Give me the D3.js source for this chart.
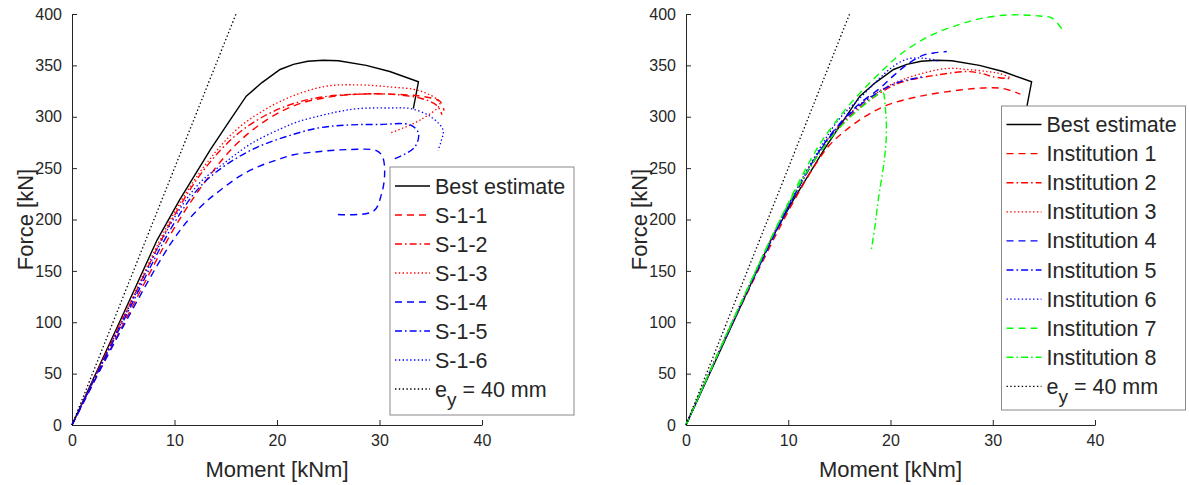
<!DOCTYPE html>
<html>
<head>
<meta charset="utf-8">
<script src="https://cdn.jsdelivr.net/npm/d3@7"></script>
<style>
  html, body { margin: 0; padding: 0; background: #fff; }
  svg { display: block; }
  text { font-family: Arial, "Liberation Sans", Helvetica, sans-serif; fill: #262626; }
</style>
</head>
<body>
<svg id="chart" width="1189" height="485"></svg>
<script>
// Axis ticks
const xTicks = [0, 10, 20, 30, 40];
const yTicks = [0, 50, 100, 150, 200, 250, 300, 350, 400];

// Force-moment curves, [moment kNm, force kN]
const bestEstimate = [[0,0],[5,108],[8.3,180],[10.5,219],[13.5,268],[15.5,298],[17,320],[18.5,333],[20.3,346],[21.6,351],[23,354],[24.5,355],[26,354.5],[28.7,350],[31,344],[33.8,334],[33.3,308]];
const eyLine = [[0,0],[16,400]];

const s11 = [[0,0],[5,98],[10,192],[13,237],[16,273],[19,297],[22,312],[25,319],[28,322],[31,322],[34,320],[35.9,315],[36.3,306]];
const s12 = [[0,0],[5,104],[10,204],[13,250],[16,282],[19,302],[22,314],[25,320],[28,322],[31,322],[34,318],[35.6,311],[36.1,302]];
const s13 = [[0,0],[5,105],[10,207],[13,253],[16,287],[19,308],[22,322],[25,330],[28,331],[31,329],[34,325],[35.9,313],[34,297],[31,284]];
const s14 = [[0,0],[5,96],[10,182],[12.5,212],[14.4,228],[16.5,243],[18.3,252],[20,258],[21.6,263],[24,266],[26.8,268],[29.7,267],[30.3,261],[30.5,244],[30.2,225],[29.4,208],[25.8,205]];
const s15 = [[0,0],[5,101],[10,197],[12.5,232],[15,253],[18,270],[21,281],[24,289],[27,292],[30,292.5],[33,292],[33.8,284],[33.4,270],[31.2,258]];
const s16 = [[0,0],[5,103],[10,202],[12.5,236],[15,256],[17.5,274],[20.3,288],[22,295],[24.2,301],[26,305],[28,308],[31,308.5],[33,308],[35,300],[36.2,287],[36,276],[35.7,267]];

const inst1 = [[0,0],[5,108],[10,208],[12.5,251],[14,272],[15.4,285],[17.3,299],[19.6,311],[22.9,320],[26.8,326],[29,328],[31,327.5],[32.7,322]];
const inst2 = [[0,0],[5,110],[10,213],[13,264],[15,290],[17,309],[20,329],[21.6,335],[24.8,341],[27.5,344],[29,342],[30,339],[31.7,337]];
const inst3 = [[0,0],[5,111],[10,214],[13,266],[15,292],[17,312],[20,331],[22,339],[25.5,347],[27.5,346],[29.5,344],[30.7,342],[31.7,338]];
const inst4 = [[0,0],[5,109],[10,212],[13,266],[15,293],[17,313],[19,328],[20.3,340],[21.5,350],[23.2,360],[24.2,362],[25.5,363.5]];
const inst5 = [[0,0],[5,109],[10,212],[13,265],[15,292],[17,311],[19,325],[20.9,334],[22.2,337],[23.2,339]];
const inst6 = [[0,0],[5,110],[10,214],[13,268],[15,298],[17,318],[18.6,334],[20,347],[21.6,356],[23.2,357],[24.8,354]];
const inst7 = [[0,0],[5,111],[10,216],[13,272],[15.1,301],[17,323],[19,343],[21,361],[23.9,379],[26.8,390],[29,396],[31.4,399],[33,399],[34.6,398],[35.8,396],[37,382]];
const inst8 = [[0,0],[5,110],[10,215],[13,264],[15,289],[17,308],[18.5,320],[19.2,325],[19.5,308],[19.6,284],[19.4,258],[18.8,219],[18.5,195],[18.1,169]];

const leftLabels = ["Best estimate","S-1-1","S-1-2","S-1-3","S-1-4","S-1-5","S-1-6","ey"];
const rightLabels = ["Best estimate","Institution 1","Institution 2","Institution 3","Institution 4","Institution 5","Institution 6","Institution 7","Institution 8","ey"];

// line styles
const RED = "#ff0000", BLUE = "#0000ff", GREEN = "#00ff00", BLACK = "#000000";
const DASH = "7,5", DASHDOT = "7,3,1.6,3", DOT = "1.4,2.4";

const leftSeries = [
  {data: bestEstimate, color: BLACK, dash: null, linear: true},
  {data: s11, color: RED, dash: DASH},
  {data: s12, color: RED, dash: DASHDOT},
  {data: s13, color: RED, dash: DOT},
  {data: s14, color: BLUE, dash: DASH},
  {data: s15, color: BLUE, dash: DASHDOT},
  {data: s16, color: BLUE, dash: DOT},
  {data: eyLine, color: BLACK, dash: DOT, linear: true}
];
const rightSeries = [
  {data: bestEstimate, color: BLACK, dash: null, linear: true},
  {data: inst1, color: RED, dash: DASH},
  {data: inst2, color: RED, dash: DASHDOT},
  {data: inst3, color: RED, dash: DOT},
  {data: inst4, color: BLUE, dash: DASH},
  {data: inst5, color: BLUE, dash: DASHDOT},
  {data: inst6, color: BLUE, dash: DOT},
  {data: inst7, color: GREEN, dash: DASH},
  {data: inst8, color: GREEN, dash: DASHDOT},
  {data: eyLine, color: BLACK, dash: DOT, linear: true}
];

const svg = d3.select("#chart");
const AX = "#262626";

function panel(x0, x1, series, labels, legendBox) {
  const top = 14, bottom = 425;
  const x = d3.scaleLinear().domain([0, 40]).range([x0, x1]);
  const y = d3.scaleLinear().domain([0, 400]).range([bottom, top]);
  const g = svg.append("g");

  // axes (box off, ticks pointing inward)
  const xa = g.append("g").attr("transform", `translate(0,${bottom})`)
    .call(d3.axisBottom(x).tickValues(xTicks).tickSizeInner(-5).tickSizeOuter(0).tickPadding(10));
  const ya = g.append("g").attr("transform", `translate(${x0},0)`)
    .call(d3.axisLeft(y).tickValues(yTicks).tickSizeInner(-5).tickSizeOuter(0).tickPadding(10));
  [xa, ya].forEach(a => {
    a.select(".domain").attr("stroke", AX).attr("stroke-width", 1);
    a.selectAll(".tick line").attr("stroke", AX);
    a.selectAll(".tick text").attr("font-size", 16).attr("fill", AX)
      .style("font-family", "Arial, 'Liberation Sans', sans-serif");
  });

  g.append("text").attr("x", (x0 + x1) / 2).attr("y", 477)
    .attr("text-anchor", "middle").attr("font-size", 22).text("Moment [kNm]");
  g.append("text").attr("transform", `translate(${x0 - 39},${(top + bottom) / 2}) rotate(-90)`)
    .attr("text-anchor", "middle").attr("font-size", 22).text("Force [kN]");

  const lineLin = d3.line().x(d => x(d[0])).y(d => y(d[1]));
  const lineSmooth = d3.line().x(d => x(d[0])).y(d => y(d[1])).curve(d3.curveCatmullRom.alpha(0.5));

  series.forEach(s => {
    g.append("path").datum(s.data)
      .attr("d", s.linear ? lineLin : lineSmooth)
      .attr("fill", "none").attr("stroke", s.color)
      .attr("stroke-width", s.dash === DOT ? 1.3 : 1.4)
      .attr("stroke-dasharray", s.dash);
  });

  // legend
  const lb = legendBox;
  const lg = g.append("g");
  lg.append("rect").attr("x", lb.x).attr("y", lb.y).attr("width", lb.w).attr("height", lb.h)
    .attr("fill", "#fff").attr("stroke", "#8a8a8a").attr("stroke-width", 1);
  series.forEach((s, i) => {
    const cy = lb.firstRow + i * lb.step;
    lg.append("line").attr("x1", lb.x + 5).attr("x2", lb.x + 40).attr("y1", cy).attr("y2", cy)
      .attr("stroke", s.color).attr("stroke-width", s.dash === DOT ? 1.3 : 1.4)
      .attr("stroke-dasharray", s.dash);
    const t = lg.append("text").attr("x", lb.x + 45).attr("y", cy + 7.5).attr("font-size", 21.5).attr("fill", "#000");
    if (labels[i] === "ey") {
      t.append("tspan").text("e");
      t.append("tspan").attr("font-size", 19).attr("dy", 9).text("y");
      t.append("tspan").attr("dy", -9).text(" = 40 mm");
    } else {
      t.text(labels[i]);
    }
  });
}

panel(72, 482, leftSeries, leftLabels, {x: 390, y: 167, w: 184, h: 248, firstRow: 186, step: 29});
panel(686, 1095, rightSeries, rightLabels, {x: 1001.5, y: 106, w: 184, h: 304, firstRow: 124.5, step: 29.1});
</script>
</body>
</html>
